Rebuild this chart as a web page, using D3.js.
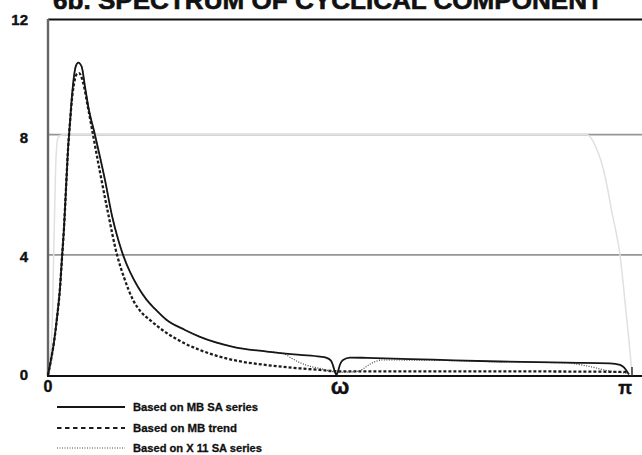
<!DOCTYPE html>
<html>
<head>
<meta charset="utf-8">
<script src="https://cdn.jsdelivr.net/npm/d3@7"></script>
<style>
  body { margin: 0; background: #fff; }
  svg { display: block; }
  text { font-family: "Liberation Sans", Arial, sans-serif; font-weight: bold; fill: #111; }
</style>
</head>
<body>
<svg id="chart" width="642" height="455"></svg>
<script>
// Frequencies in radians (0 .. pi) and spectral values for each estimate.
const freqMBSA = [0, 0.0161, 0.0323, 0.0484, 0.0646, 0.0753, 0.0861, 0.0968, 0.1076, 0.1183, 0.1291, 0.1399, 0.1506, 0.1630,
  0.1813, 0.1990, 0.2168, 0.2528, 0.3066, 0.3443, 0.3782, 0.4035, 0.4411, 0.4841, 0.5310, 0.5756, 0.6385, 0.7370, 0.8177,
  0.9952, 1.1781, 1.3556, 1.4632, 1.4955, 1.5224, 1.5331, 1.5439, 1.5520, 1.5601, 1.5708, 1.5870, 1.6247, 1.7162, 2.0711,
  2.4315, 2.7919, 3.0232, 3.0770, 3.0985, 3.1146, 3.1254];
const specMBSA = [0, 0.5, 1.1, 1.9, 2.9, 3.9, 4.9, 6.2, 7.5, 8.4, 9.3, 9.95, 10.3, 10.4,
  10.26, 9.6, 8.93, 7.99, 6.49, 5.3, 4.49, 4.0, 3.43, 2.93, 2.5, 2.2, 1.83, 1.5, 1.27,
  0.94, 0.78, 0.67, 0.61, 0.58, 0.48, 0.32, 0.1, 0, 0.12, 0.35, 0.5, 0.58, 0.57, 0.51,
  0.45, 0.41, 0.39, 0.34, 0.25, 0.12, 0.02];

const freqMBTrend = [0, 0.0161, 0.0323, 0.0484, 0.0646, 0.0753, 0.0861, 0.0968, 0.1076, 0.1183, 0.1291, 0.1399, 0.1533, 0.1668,
  0.1883, 0.2152, 0.2421, 0.2797, 0.3228, 0.3712, 0.4088, 0.4573, 0.5003, 0.5487, 0.6402, 0.7262, 0.8177, 0.9952, 1.1781,
  1.3556, 1.4632, 1.5331, 1.5977, 1.8935, 2.4315, 2.9694, 3.1146];
const specMBTrend = [0, 0.5, 1.1, 1.9, 2.9, 3.9, 4.9, 6.2, 7.5, 8.4, 9.2, 9.7, 10.0, 10.05,
  9.75, 8.9, 8.0, 6.75, 5.4, 4.0, 3.25, 2.5, 2.1, 1.83, 1.39, 1.08, 0.83, 0.5, 0.33,
  0.22, 0.17, 0.13, 0.12, 0.12, 0.12, 0.11, 0.10];

const freqX11SA = [0, 0.0161, 0.0323, 0.0484, 0.0646, 0.0753, 0.0861, 0.0968, 0.1076, 0.1183, 0.1291, 0.1399, 0.1506, 0.1630,
  0.1813, 0.1990, 0.2168, 0.2528, 0.3066, 0.3443, 0.3782, 0.4035, 0.4411, 0.4841, 0.5310, 0.5756, 0.6385, 0.7370, 0.8177,
  0.9952, 1.1781, 1.2642, 1.3126, 1.3556, 1.4094, 1.4632, 1.5331, 1.5708, 1.6623, 1.6945, 1.7214, 1.7537, 1.7967, 2.0711,
  2.4315, 2.7919, 2.8350, 2.9157, 3.0055, 3.0770, 3.1146];
const specX11SA = [0, 0.5, 1.1, 1.9, 2.9, 3.9, 4.9, 6.2, 7.5, 8.4, 9.3, 9.95, 10.3, 10.4,
  10.26, 9.6, 8.93, 7.99, 6.49, 5.3, 4.49, 4.0, 3.43, 2.93, 2.5, 2.2, 1.83, 1.5, 1.27,
  0.94, 0.78, 0.72, 0.55, 0.41, 0.29, 0.22, 0.11, 0.09, 0.12, 0.2, 0.32, 0.43, 0.5, 0.49,
  0.44, 0.40, 0.37, 0.28, 0.15, 0.08, 0.06];

// Gain of the band-pass filter, drawn faintly behind the spectra.
const freqGain = [0, 0.0215, 0.0323, 0.0430, 0.0538, 0.0753, 2.8995, 2.9533, 2.9856, 3.0071, 3.0340, 3.0609,
  3.0770, 3.0932, 3.1093, 3.1227, 3.1335, Math.PI];
const gainValues = [0, 1.5, 4.5, 7.2, 7.9, 8.0, 8.0, 7.5, 6.9, 6.3, 5.4, 4.6,
  4.0, 3.1, 2.1, 1.3, 0.6, 0];

const yTickValues = [0, 4, 8, 12];
const yTickLabels = ["0", "4", "8", "12"];
const gridValues = [4, 8];
const xTickValues = [0, Math.PI / 2, Math.PI];
const xTickLabels = ["0", "ω", "π"];

const titleText = "6b. SPECTRUM OF CYCLICAL COMPONENT";
const legendLabels = ["Based on MB SA series", "Based on MB trend", "Based on X 11 SA series"];

const svg = d3.select("#chart");
const W = 642;

const x = d3.scaleLinear().domain([0, Math.PI]).range([48, 632]);
const y = d3.scaleLinear().domain([0, 12]).range([375, 14.5]);

const line = d3.line()
  .x(d => x(d[0]))
  .y(d => y(d[1]))
  .curve(d3.curveMonotoneX);

const zip = (a, b) => a.map((v, i) => [v, b[i]]);

// Title, running off the top of the page
svg.append("text")
  .attr("x", 53).attr("y", 9)
  .attr("font-size", 24)
  .attr("textLength", 550)
  .attr("lengthAdjust", "spacingAndGlyphs")
  .attr("stroke", "#111").attr("stroke-width", 0.6)
  .text(titleText);

// Horizontal gridlines
svg.selectAll("line.grid").data(gridValues).enter().append("line")
  .attr("class", "grid")
  .attr("x1", 48).attr("x2", W)
  .attr("y1", d => y(d)).attr("y2", d => y(d))
  .attr("stroke", "#959595").attr("stroke-width", 1.6);

// Filter gain (faint)
svg.append("path")
  .datum(zip(freqGain, gainValues))
  .attr("d", line)
  .attr("fill", "none")
  .attr("stroke", "#e0e0e0")
  .attr("stroke-width", 1.5);

// Frame: top rule, left axis, bottom axis
svg.append("line").attr("x1", 48).attr("x2", W).attr("y1", 19.5).attr("y2", 19.5)
  .attr("stroke", "#111").attr("stroke-width", 2);
svg.append("line").attr("x1", 48).attr("x2", 48).attr("y1", 19).attr("y2", y(0) + 1)
  .attr("stroke", "#666").attr("stroke-width", 2.4);
svg.append("line").attr("x1", 47).attr("x2", W).attr("y1", y(0) + 1).attr("y2", y(0) + 1)
  .attr("stroke", "#111").attr("stroke-width", 2);

// Spectra
const styles = [
  { data: zip(freqMBTrend, specMBTrend), color: "#1c1c1c", width: 2.3, dash: "3,2" },
  { data: zip(freqX11SA, specX11SA), color: "#444", width: 1.2, dash: "1,1.5" },
  { data: zip(freqMBSA, specMBSA), color: "#161616", width: 1.8, dash: null }
];
styles.forEach(s => {
  svg.append("path")
    .datum(s.data)
    .attr("d", line)
    .attr("fill", "none")
    .attr("stroke", s.color)
    .attr("stroke-width", s.width)
    .attr("stroke-dasharray", s.dash)
    .attr("stroke-linejoin", "round");
});

// Mark at pi on the frequency axis
svg.append("line")
  .attr("x1", x(Math.PI)).attr("x2", x(Math.PI))
  .attr("y1", y(0) - 8).attr("y2", y(0) + 1)
  .attr("stroke", "#333").attr("stroke-width", 1.5);

// Y tick labels
const yShift = [-1, 1.5, 2.5, 5];
svg.selectAll("text.ytick").data(yTickValues).enter().append("text")
  .attr("class", "ytick")
  .attr("x", 28)
  .attr("y", (d, i) => y(d) + yShift[i])
  .attr("text-anchor", "end")
  .attr("dominant-baseline", "central")
  .attr("font-size", 15)
  .attr("stroke", "#111").attr("stroke-width", 0.4)
  .text((d, i) => yTickLabels[i]);

// X tick labels
const xAnchors = ["middle", "middle", "end"];
const xSizes = [16, 22, 18];
const xBase = [392, 394, 394];
svg.selectAll("text.xtick").data(xTickValues).enter().append("text")
  .attr("class", "xtick")
  .attr("x", d => x(d))
  .attr("y", (d, i) => xBase[i])
  .attr("text-anchor", (d, i) => xAnchors[i])
  .attr("font-size", (d, i) => xSizes[i])
  .attr("stroke", "#111").attr("stroke-width", 0.4)
  .text((d, i) => xTickLabels[i]);

// Legend
const legendY = [407, 428, 448];
const legendDash = [null, "4.5,3.5", "1,1.5"];
const legendWidth = [1.8, 2, 1.2];
const legendTextLen = [125, 104, 129];
const legendColor = ["#161616", "#1c1c1c", "#444"];
legendLabels.forEach((lab, i) => {
  svg.append("line")
    .attr("x1", 57).attr("x2", 125)
    .attr("y1", legendY[i]).attr("y2", legendY[i])
    .attr("stroke", legendColor[i])
    .attr("stroke-width", legendWidth[i])
    .attr("stroke-dasharray", legendDash[i]);
  svg.append("text")
    .attr("x", 133).attr("y", legendY[i] + 4)
    .attr("font-size", 11.5)
    .attr("textLength", legendTextLen[i])
    .attr("lengthAdjust", "spacingAndGlyphs")
    .attr("stroke", "#111").attr("stroke-width", 0.3)
    .text(lab);
});
</script>
</body>
</html>
